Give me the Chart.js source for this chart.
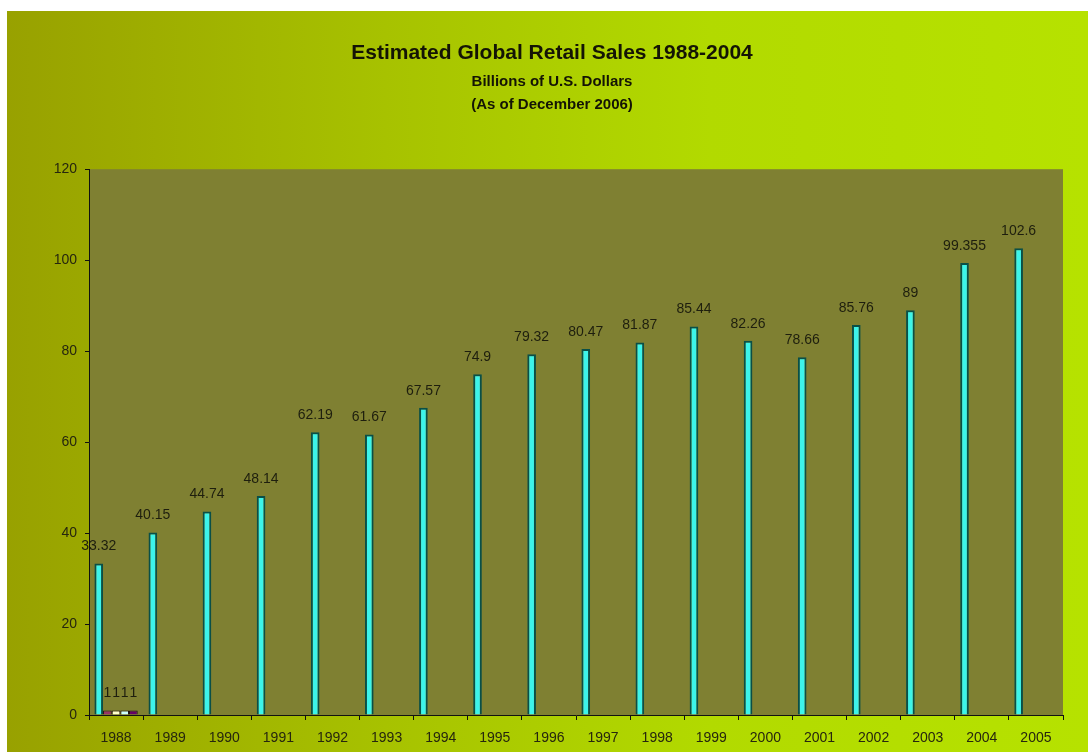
<!DOCTYPE html>
<html>
<head>
<meta charset="utf-8">
<title>Estimated Global Retail Sales 1988-2004</title>
<script src="https://cdn.jsdelivr.net/npm/chart.js@4.4.1/dist/chart.umd.min.js"></script>
<style>
  html, body { margin: 0; padding: 0; background: #fff; }
  #wrap { width: 1088px; height: 752px; }
</style>
</head>
<body>
<div id="wrap"><canvas id="salesChart" width="1088" height="752"></canvas></div>
<script>
const years = ['1988', '1989', '1990', '1991', '1992', '1993', '1994', '1995', '1996',
               '1997', '1998', '1999', '2000', '2001', '2002', '2003', '2004', '2005'];
const sales = [33.32, 40.15, 44.74, 48.14, 62.19, 61.67, 67.57, 74.9, 79.32,
               80.47, 81.87, 85.44, 82.26, 78.66, 85.76, 89, 99.355, 102.6];
// four stray series that only have a value in 1988
const extraA = [1, null, null, null, null, null, null, null, null, null, null, null, null, null, null, null, null, null];
const extraB = [1, null, null, null, null, null, null, null, null, null, null, null, null, null, null, null, null, null];
const extraC = [1, null, null, null, null, null, null, null, null, null, null, null, null, null, null, null, null, null];
const extraD = [1, null, null, null, null, null, null, null, null, null, null, null, null, null, null, null, null, null];
const yTicks = [0, 20, 40, 60, 80, 100, 120];

const FONT = "'Liberation Sans', Arial, sans-serif";

// slide background + olive plot area
const backdrop = {
    id: 'backdrop',
    beforeDraw(chart) {
        const c = chart.ctx;
        const a = chart.chartArea;
        c.save();
        c.fillStyle = '#ffffff';
        c.fillRect(0, 0, chart.width, chart.height);
        const g = c.createLinearGradient(7, 0, chart.width, 0);
        g.addColorStop(0, '#98a100');
        g.addColorStop(0.35, '#a7c200');
        g.addColorStop(0.65, '#b2da00');
        g.addColorStop(1, '#b6e200');
        c.fillStyle = g;
        c.fillRect(7, 11, chart.width - 7, chart.height - 11);
        c.fillStyle = '#7f8032';
        c.fillRect(a.left, a.top, a.right - a.left, a.bottom - a.top);
        c.restore();
    }
};

// value labels above every bar
const barValues = {
    id: 'barValues',
    afterDatasetsDraw(chart) {
        const c = chart.ctx;
        c.save();
        c.font = '14px ' + FONT;
        c.fillStyle = '#1e1e0e';
        c.textAlign = 'center';
        c.textBaseline = 'middle';
        chart.data.datasets.forEach((ds, i) => {
            chart.getDatasetMeta(i).data.forEach((bar, j) => {
                const v = ds.data[j];
                if (v === null || v === undefined) return;
                c.fillText(String(v), bar.x, bar.y - 17);
            });
        });
        c.restore();
    }
};

const ctx = document.getElementById('salesChart').getContext('2d');
const salesChart = new Chart(ctx, {
    type: 'bar',
    data: {
        labels: years,
        datasets: [
            { label: 'Sales', data: sales, backgroundColor: '#3df4ea', borderColor: '#0a4f47', borderWidth: 2 },
            { label: 'A', data: extraA, backgroundColor: '#993366', borderColor: '#1a0a10', borderWidth: 1 },
            { label: 'B', data: extraB, backgroundColor: '#ffffcc', borderColor: '#1a0a10', borderWidth: 1 },
            { label: 'C', data: extraC, backgroundColor: '#ccffff', borderColor: '#1a0a10', borderWidth: 1 },
            { label: 'D', data: extraD, backgroundColor: '#660066', borderColor: '#1a0a10', borderWidth: 1 }
        ]
    },
    options: {
        responsive: false,
        animation: false,
        categoryPercentage: 0.8,
        barPercentage: 1.0,
        layout: { padding: { left: 41, right: 25, top: 0, bottom: 0 } },
        plugins: {
            legend: { display: false },
            tooltip: { enabled: false },
            title: {
                display: true,
                text: 'Estimated Global Retail Sales 1988-2004',
                color: '#141405',
                font: { family: FONT, size: 21, weight: 'bold', lineHeight: 1.2 },
                padding: { top: 41, bottom: 4 }
            },
            subtitle: {
                display: true,
                text: ['Billions of U.S. Dollars', '(As of December 2006)'],
                color: '#141405',
                font: { family: FONT, size: 15, weight: 'bold', lineHeight: 1.533 },
                padding: { top: 0, bottom: 53 }
            }
        },
        scales: {
            x: {
                grid: { display: true, offset: true, drawOnChartArea: false, tickLength: 5, color: '#111', lineWidth: 1 },
                border: { display: true, color: '#111', width: 1 },
                ticks: { color: '#26260e', padding: 10, font: { family: FONT, size: 14 }, maxRotation: 0, autoSkip: false },
                afterFit(scale) { scale.height = 37; }
            },
            y: {
                min: 0,
                max: 120,
                afterBuildTicks(scale) { scale.ticks = yTicks.map(v => ({ value: v })); },
                grid: { display: true, drawOnChartArea: false, tickLength: 4, color: '#111', lineWidth: 1 },
                border: { display: true, color: '#111', width: 1 },
                ticks: { color: '#26260e', padding: 8, font: { family: FONT, size: 14 } },
                afterFit(scale) { scale.width = 48; }
            }
        }
    },
    plugins: [backdrop, barValues]
});
</script>
</body>
</html>
